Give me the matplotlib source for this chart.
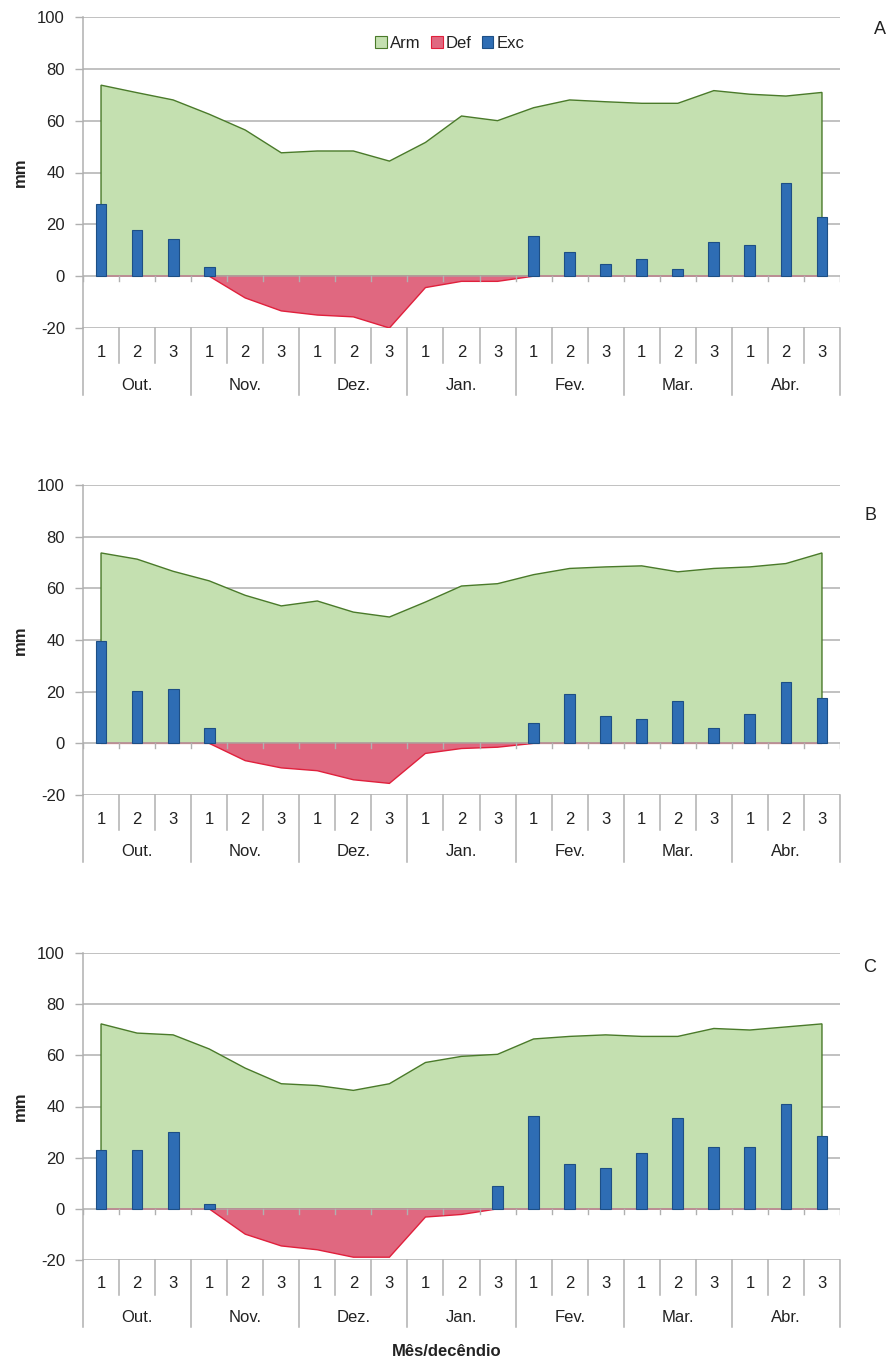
import numpy as np
import matplotlib.pyplot as plt
from matplotlib.patches import Patch

plt.rcParams['font.family'] = ['Liberation Sans', 'DejaVu Sans']
plt.rcParams['axes.unicode_minus'] = False

months = ['Out.', 'Nov.', 'Dez.', 'Jan.', 'Fev.', 'Mar.', 'Abr.']
decendios = ['1', '2', '3']
series_names = ['Arm', 'Def', 'Exc']

# panel A
arm_a = [73.7, 70.8, 68.0, 62.5, 56.4, 47.6, 48.3, 48.3, 44.4, 51.6, 61.8,
         60.0, 65.0, 68.0, 67.3, 66.7, 66.7, 71.6, 70.2, 69.5, 70.9]
def_a = [0, 0, 0, 0, -8.4, -13.4, -15.0, -15.7, -20.0, -4.4, -2.0,
         -2.0, 0, 0, 0, 0, 0, 0, 0, 0, 0]
exc_a = [27.8, 17.8, 14.3, 3.6, 0, 0, 0, 0, 0, 0, 0,
         0, 15.4, 9.5, 4.8, 6.7, 2.6, 13.1, 12.0, 35.8, 22.7]

# panel B
arm_b = [73.7, 71.3, 66.6, 62.9, 57.3, 53.2, 55.1, 50.8, 48.9, 54.7, 60.9,
         61.8, 65.3, 67.7, 68.3, 68.7, 66.4, 67.7, 68.3, 69.6, 73.7]
def_b = [0, 0, 0, 0, -6.7, -9.5, -10.6, -14.1, -15.5, -3.9, -2.0,
         -1.5, 0, 0, 0, 0, 0, 0, 0, 0, 0]
exc_b = [39.7, 20.4, 21.0, 6.1, 0, 0, 0, 0, 0, 0, 0,
         0, 7.8, 19.2, 10.7, 9.6, 16.2, 6.1, 11.4, 23.9, 17.5]

# panel C
arm_c = [72.3, 68.7, 68.0, 62.5, 55.0, 48.9, 48.2, 46.3, 48.9, 57.2, 59.6,
         60.4, 66.4, 67.4, 68.0, 67.4, 67.4, 70.5, 69.9, 71.1, 72.3]
def_c = [0, 0, 0, 0, -9.9, -14.5, -16.0, -18.9, -18.9, -3.2, -2.2,
         0, 0, 0, 0, 0, 0, 0, 0, 0, 0]
exc_c = [23.1, 23.1, 30.2, 1.8, 0, 0, 0, 0, 0, 0, 0,
         9.0, 36.4, 17.6, 15.8, 21.8, 35.7, 24.1, 24.1, 41.1, 28.3]

W, H = 892, 1364
green, green_edge = '#c4e0b0', '#4a7a2a'
red, red_edge = '#e06880', '#e0203c'
blue, blue_edge = '#2e6db4', '#1d4f85'
gc = '#b0b0b0'
tc = '#222222'

fig = plt.figure(figsize=(W / 100, H / 100), dpi=100)

panels = [
    ('A', arm_a, def_a, exc_a, 17, 328, (880, 30)),
    ('B', arm_b, def_b, exc_b, 485, 795, (870, 515)),
    ('C', arm_c, def_c, exc_c, 953, 1260, (870, 968)),
]

for name, arm, dfc, exc, top, bot, lab in panels:
    ax = fig.add_axes([83 / W, 1 - bot / H, (840 - 83) / W, (bot - top) / H])
    ax.set_xlim(0, 21)
    ax.set_ylim(-20, 100)
    upp = 120 / (bot - top)
    x = np.arange(21) + 0.5
    arm = np.array(arm)
    dfc = np.array(dfc)
    exc = np.array(exc)

    for v in range(-20, 101, 20):
        ax.axhline(v, color=gc, lw=1.1, zorder=3 if v == 0 else 0)

    ax.fill(np.r_[x[0], x, x[-1]], np.r_[0, arm, 0], facecolor=green,
            edgecolor=green_edge, lw=1, zorder=1)
    ax.fill(np.r_[x[0], x, x[-1]], np.r_[0, dfc, 0], facecolor=red,
            edgecolor=red_edge, lw=1, zorder=2)
    m = exc > 0
    ax.bar(x[m], exc[m], width=0.3, color=blue, edgecolor=blue_edge,
           lw=0.8, zorder=4)

    for k in range(22):
        ax.plot([k, k], [0, -5 * upp], color=gc, lw=1, zorder=3)
        depth = 67 if k % 3 == 0 else 35
        ax.plot([k, k], [-20, -20 - depth * upp], color=gc, lw=1.1,
                clip_on=False)
    ax.plot([0, 0], [100, -20], color=gc, lw=1.1, clip_on=False)

    for i in range(21):
        ax.text(x[i], -20 - 24 * upp, decendios[i % 3], ha='center',
                va='center', fontsize=12, color=tc, clip_on=False)
    for j, mo in enumerate(months):
        ax.text(3 * j + 1.5, -20 - 57 * upp, mo, ha='center', va='center',
                fontsize=12, color=tc, clip_on=False)

    for s in ax.spines.values():
        s.set_visible(False)
    ax.set_yticks(range(-20, 101, 20))
    ax.tick_params(axis='y', length=6, width=1, color=gc, pad=7,
                   labelsize=12, labelcolor=tc)
    ax.tick_params(axis='x', bottom=False, labelbottom=False)

    fig.text(20 / W, 1 - (top + bot) / 2 / H, 'mm', rotation=90,
             ha='center', va='center', fontsize=12, fontweight='bold',
             color=tc)
    fig.text(lab[0] / W, 1 - lab[1] / H, name, ha='center', va='center',
             fontsize=13, color=tc)

    if name == 'A':
        handles = [Patch(facecolor=green, edgecolor=green_edge, lw=0.8),
                   Patch(facecolor=red, edgecolor=red_edge, lw=0.8),
                   Patch(facecolor=blue, edgecolor=blue_edge, lw=0.8)]
        ax.legend(handles, series_names, loc='center',
                  bbox_to_anchor=(450 / W, 1 - 43 / H),
                  bbox_transform=fig.transFigure, ncol=3, frameon=False,
                  handlelength=0.7, handleheight=0.7, handletextpad=0.2,
                  columnspacing=0.6, fontsize=12, labelcolor=tc)

fig.text(447 / W, 1 - 1351 / H, 'Mês/decêndio', ha='center', va='center',
         fontsize=12, fontweight='bold', color=tc)

fig.savefig('out.png', dpi=100)
